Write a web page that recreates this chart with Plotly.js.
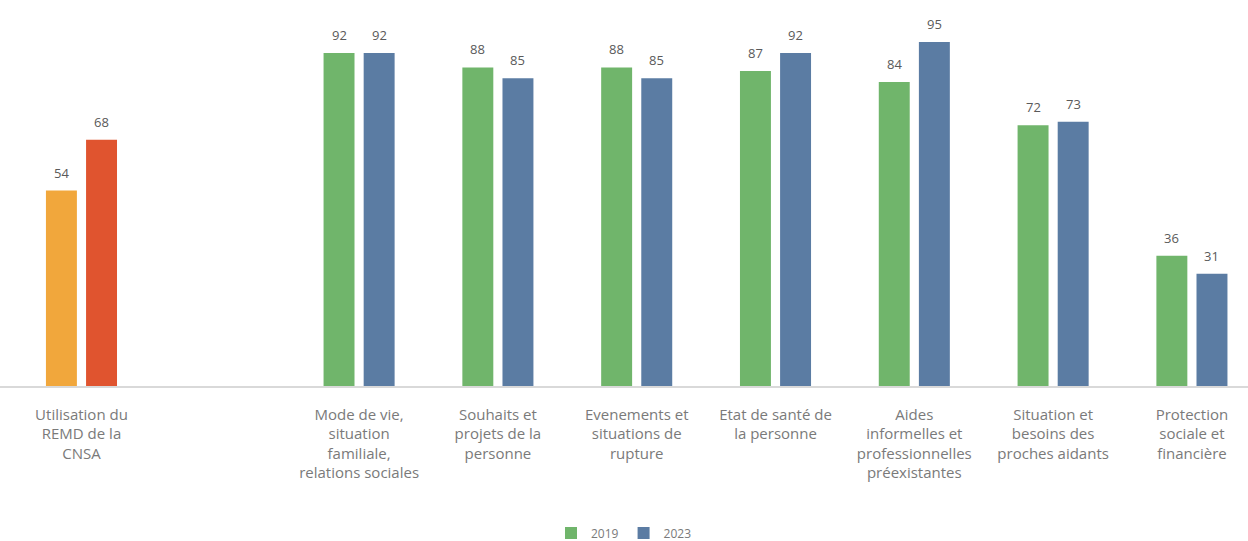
<!DOCTYPE html>
<html>
<head>
<meta charset="utf-8">
<script src="https://cdn.plot.ly/plotly-3.0.1.min.js"></script>
<style>html,body{margin:0;padding:0;background:#fff;}#chart{width:1248px;height:541px;}</style>
</head>
<body>
<div id="chart"></div>
<script>
// ---- data ----
var categories = [
  "Utilisation du<br>REMD de la<br>CNSA",
  " ",
  "Mode de vie,<br>situation<br>familiale,<br>relations sociales",
  "Souhaits et<br>projets de la<br>personne",
  "Evenements et<br>situations de<br>rupture",
  "Etat de santé de<br>la personne",
  "Aides<br>informelles et<br>professionnelles<br>préexistantes",
  "Situation et<br>besoins des<br>proches aidants",
  "Protection<br>sociale et<br>financière"
];
var remdCategory = [categories[0]];
var remd2019 = [54];
var remd2023 = [68];
var themeCategories = categories.slice(2);
var values2019 = [92, 88, 88, 87, 84, 72, 36];
var values2023 = [92, 85, 85, 92, 95, 73, 31];
var seriesNames = ["2019", "2023"];

// ---- style ----
var cGreen = "#70b56b", cBlue = "#5b7ca3", cOrange = "#f1a73c", cRed = "#e0542f";
var barW = 0.223, offL = -0.256, offR = 0.033;

var traces = [
  {type:"bar", x:remdCategory, y:remd2019, name:seriesNames[0], showlegend:false,
   marker:{color:cOrange}, width:barW, offset:offL, hoverinfo:"y"},
  {type:"bar", x:remdCategory, y:remd2023, name:seriesNames[1], showlegend:false,
   marker:{color:cRed}, width:barW, offset:offR, hoverinfo:"y"},
  {type:"bar", x:themeCategories, y:values2019, name:seriesNames[0],
   marker:{color:cGreen}, width:barW, offset:offL},
  {type:"bar", x:themeCategories, y:values2023, name:seriesNames[1],
   marker:{color:cBlue}, width:barW, offset:offR}
];

var annotations = [];
function addLabels(cats, vals, shift) {
  cats.forEach(function(c, i) {
    var idx = categories.indexOf(c);
    annotations.push({x: idx + shift, y: vals[i], xref:"x", yref:"y", text: String(vals[i]),
      showarrow:false, yanchor:"middle", yshift:18,
      font:{family:"Open Sans, sans-serif", size:13, color:"#5a5a5a"}});
  });
}
addLabels(remdCategory, remd2019, offL + barW/2);
addLabels(remdCategory, remd2023, offR + barW/2);
addLabels(themeCategories, values2019, offL + barW/2);
addLabels(themeCategories, values2023, offR + barW/2);

var layout = {
  width:1248, height:541,
  margin:{l:0, r:0, t:24, b:155},
  paper_bgcolor:"#ffffff", plot_bgcolor:"#ffffff",
  barmode:"overlay",
  font:{family:"Open Sans, sans-serif", color:"#7a7a7a"},
  xaxis:{type:"category", categoryorder:"array", categoryarray:categories,
    range:[-0.587, 8.404], showgrid:false, zeroline:false,
    showline:true, linecolor:"#d9d9d9", linewidth:1.5, ticks:"",
    ticklabelstandoff:14,
    tickfont:{family:"Open Sans, sans-serif", size:15, color:"#7a7a7a"},
    automargin:false, fixedrange:true},
  yaxis:{range:[0,100], visible:false, showgrid:false, zeroline:false, fixedrange:true},
  legend:{orientation:"h", x:0.5, xanchor:"center", yref:"container", y:0.015, yanchor:"middle",
    font:{family:"Open Sans, sans-serif", size:12, color:"#7a7a7a"}, traceorder:"normal"},
  annotations:annotations,
  showlegend:true
};

Plotly.newPlot("chart", traces, layout, {displayModeBar:false, staticPlot:true});
</script>
</body>
</html>
